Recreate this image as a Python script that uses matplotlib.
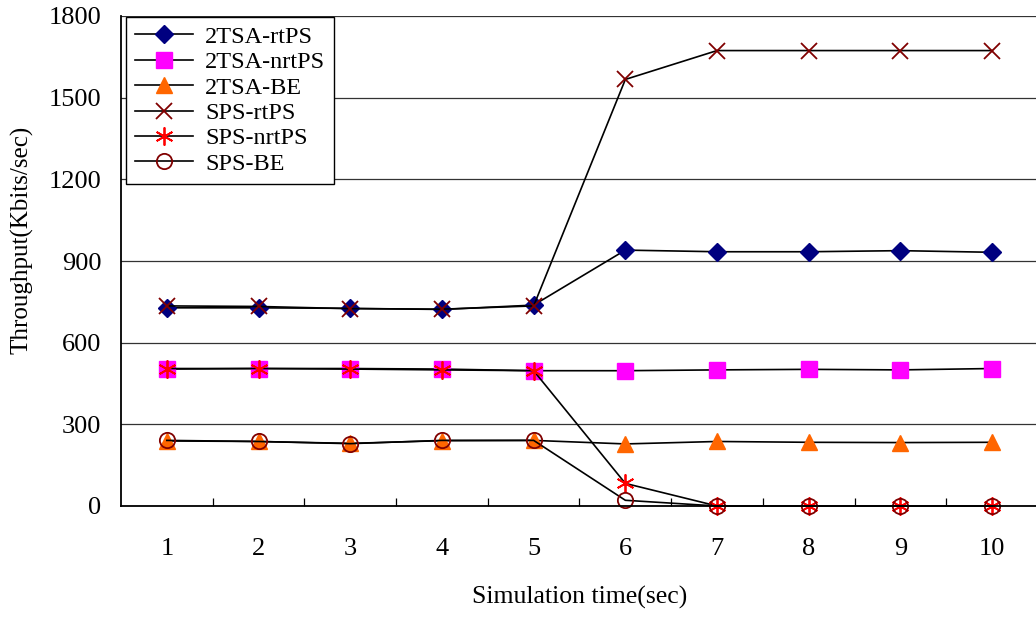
import matplotlib.pyplot as plt
from matplotlib.ticker import FixedLocator

plt.rcParams["font.family"] = ["Liberation Serif", "DejaVu Serif"]

sim_time = [1, 2, 3, 4, 5, 6, 7, 8, 9, 10]

tsa_rtps = [728, 728, 726, 722, 738, 940, 934, 934, 938, 932]
tsa_nrtps = [503, 505, 505, 503, 497, 497, 500, 502, 500, 505]
tsa_be = [239, 237, 230, 240, 241, 228, 237, 234, 233, 234]
sps_rtps = [735, 733, 725, 723, 735, 1567, 1673, 1673, 1673, 1673]
sps_nrtps = [505, 505, 503, 500, 497, 83, 0, 0, 0, 0]
sps_be = [241, 237, 229, 241, 241, 21, 0, 0, 0, 0]

series = [
    ("2TSA-rtPS", tsa_rtps, dict(marker="D", ms=9, mfc="#000080", mec="#000080")),
    ("2TSA-nrtPS", tsa_nrtps, dict(marker="s", ms=11, mfc="#FF00FF", mec="#FF00FF")),
    ("2TSA-BE", tsa_be, dict(marker="^", ms=12, mfc="#FF6600", mec="#FF6600")),
    ("SPS-rtPS", sps_rtps, dict(marker="x", ms=11, mec="#800000", mew=1.3)),
    ("SPS-nrtPS", sps_nrtps, dict(marker=(6, 2, 0), ms=13, mec="#FF0000", mew=1.3)),
    ("SPS-BE", sps_be, dict(marker="o", ms=11, mfc="none", mec="#800000", mew=1.3)),
]

fig = plt.figure(figsize=(10.36, 6.19), dpi=100)
ax = fig.add_axes([121 / 1036, 1 - 506 / 619, 917 / 1036, 490 / 619])

for name, vals, style in series:
    ax.plot(sim_time, vals, color="black", lw=1.2, label=name, clip_on=False, **style)

ax.set_xlim(0.5, 10.5)
ax.set_ylim(0, 1800)
ax.set_yticks(range(0, 1801, 300))
ax.set_xticks(sim_time)
ax.xaxis.set_minor_locator(FixedLocator([i + 0.5 for i in range(1, 10)]))

ax.grid(axis="y", color="#333333", lw=0.9)
ax.set_axisbelow(True)
ax.tick_params(axis="x", which="major", length=0, pad=23, labelsize=19)
ax.tick_params(axis="x", which="minor", direction="in", length=6, width=0.9)
ax.tick_params(axis="y", length=0, pad=14, labelsize=19)

for side in ("top", "right"):
    ax.spines[side].set_visible(False)
for side in ("left", "bottom"):
    ax.spines[side].set_linewidth(1.3)
    ax.spines[side].set_color("black")

ax.set_xlabel("Simulation time(sec)", fontsize=18.5, labelpad=19)
fig.text(22 / 1036, 1 - 240 / 619, "Throughput(Kbits/sec)", rotation=90,
         ha="center", va="center", fontsize=18)

leg = ax.legend(loc="upper left", bbox_to_anchor=(5 / 917, 1 - 1 / 490), fontsize=17.5,
                fancybox=False, framealpha=1, edgecolor="black", borderaxespad=0,
                handlelength=2.4, labelspacing=0.14, borderpad=0.36, handletextpad=0.5)
leg.get_frame().set_linewidth(1.0)

fig.savefig("out.png", dpi=100)
